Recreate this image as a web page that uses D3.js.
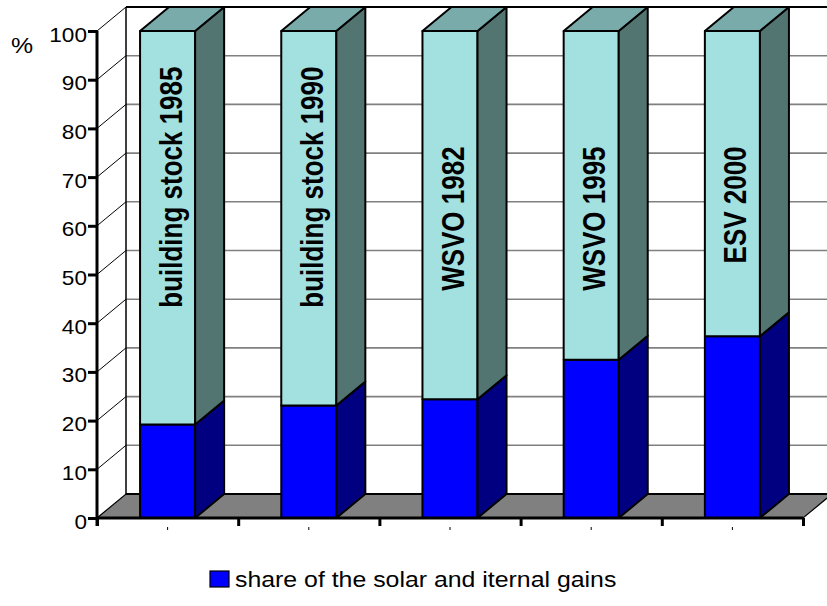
<!DOCTYPE html>
<html>
<head>
<meta charset="utf-8">
<script src="https://cdn.jsdelivr.net/npm/d3@7"></script>
<style>
  html, body { margin: 0; padding: 0; background: #fff; }
  svg { display: block; }
  text { font-family: "Liberation Sans", Arimo, sans-serif; fill: #000; }
</style>
</head>
<body>
<svg id="chart" width="827" height="606"></svg>
<script>
// Standards compared, bottom to top of each column
const categories = ["building stock 1985", "building stock 1990", "WSVO 1982", "WSVO 1995", "ESV 2000"];
// share of the solar and internal gains, % of the heat demand
const gainsShare = [19.2, 23.1, 24.4, 32.5, 37.3];
// remaining part up to 100 %
const totalShare = [100, 100, 100, 100, 100];
const yTickValues = [0, 10, 20, 30, 40, 50, 60, 70, 80, 90, 100];
const legendLabel = "share of the solar and iternal gains";
const unitLabel = "%";

const svg = d3.select("#chart");
const fontFamily = "'Liberation Sans', Arimo, sans-serif";

// Plot frame (front plane) and oblique depth of the 3D box
const plotLeft = 97, plotRight = 803, plotBottom = 518, plotTop = 31;
const depthX = 29, depthY = -24;
const backRight = plotRight + depthX;
const textStretch = 1.13;

const x = d3.scaleBand()
  .domain(categories)
  .range([plotLeft, plotRight])
  .paddingInner(0.61)
  .paddingOuter(0.305);

const y = d3.scaleLinear().domain([0, 100]).range([plotBottom, plotTop]);

const pts = arr => arr.map(p => p.join(",")).join(" ");

// ---- walls ----
const walls = svg.append("g");

// back wall gridlines
walls.selectAll("line.grid")
  .data(yTickValues.filter(v => v > 0 && v < 100))
  .join("line")
  .attr("class", "grid")
  .attr("x1", plotLeft + depthX).attr("x2", backRight)
  .attr("y1", d => y(d) + depthY).attr("y2", d => y(d) + depthY)
  .attr("stroke", "#808080").attr("stroke-width", 1.6);

// left wall diagonals
walls.selectAll("line.diag")
  .data(yTickValues.filter(v => v > 0))
  .join("line")
  .attr("class", "diag")
  .attr("x1", plotLeft).attr("x2", plotLeft + depthX)
  .attr("y1", d => y(d)).attr("y2", d => y(d) + depthY)
  .attr("stroke", "#000").attr("stroke-width", 1);

// back wall top edge and left edge
walls.append("line")
  .attr("x1", plotLeft + depthX).attr("x2", backRight)
  .attr("y1", y(100) + depthY).attr("y2", y(100) + depthY)
  .attr("stroke", "#000").attr("stroke-width", 2);
walls.append("line")
  .attr("x1", plotLeft + depthX).attr("x2", plotLeft + depthX)
  .attr("y1", y(100) + depthY).attr("y2", y(0) + depthY)
  .attr("stroke", "#000").attr("stroke-width", 1.5);

// floor
walls.append("polygon")
  .attr("points", pts([[plotLeft, y(0)], [plotRight, y(0)], [backRight, y(0) + depthY], [plotLeft + depthX, y(0) + depthY]]))
  .attr("fill", "#808080").attr("stroke", "#000").attr("stroke-width", 1.2);
walls.append("line")
  .attr("x1", plotLeft + depthX).attr("x2", backRight)
  .attr("y1", y(0) + depthY).attr("y2", y(0) + depthY)
  .attr("stroke", "#000").attr("stroke-width", 2.2);

// ---- columns ----
const rows = categories.map((c, i) => ({ cat: c, gains: gainsShare[i], total: totalShare[i] }));

const segStyle = {
  lower: { front: "#0000FF", side: "#000080", top: "#0000C0" },
  upper: { front: "#A3E0E0", side: "#527571", top: "#7AABAB" }
};

function drawBlock(g, x0, x1, v0, v1, style, withTop) {
  const yb = y(v0), yt = y(v1);
  g.append("rect")
    .attr("x", x0).attr("y", yt).attr("width", x1 - x0).attr("height", yb - yt)
    .attr("fill", style.front).attr("stroke", "#000").attr("stroke-width", 2)
    .attr("stroke-linejoin", "round");
  g.append("polygon")
    .attr("points", pts([[x1, yb], [x1 + depthX, yb + depthY], [x1 + depthX, yt + depthY], [x1, yt]]))
    .attr("fill", style.side).attr("stroke", "#000").attr("stroke-width", 2)
    .attr("stroke-linejoin", "round");
  if (withTop) {
    g.append("polygon")
      .attr("points", pts([[x0, yt], [x0 + depthX, yt + depthY], [x1 + depthX, yt + depthY], [x1, yt]]))
      .attr("fill", style.top).attr("stroke", "#000").attr("stroke-width", 2)
      .attr("stroke-linejoin", "round");
  }
}

const bars = svg.append("g");
rows.forEach(d => {
  const g = bars.append("g");
  const x0 = x(d.cat), x1 = x0 + x.bandwidth();
  drawBlock(g, x0, x1, 0, d.gains, segStyle.lower, false);
  drawBlock(g, x0, x1, d.gains, d.total, segStyle.upper, true);

  // column caption, written upward inside the light segment
  const cx = x0 + x.bandwidth() / 2;
  const endValue = d.cat.length > 12 ? 92.7 : 76.3;
  g.append("text")
    .attr("transform", `translate(${cx + 14},${y(endValue)}) scale(${textStretch + 0.05},1) rotate(-90)`)
    .attr("text-anchor", "end")
    .style("font-family", fontFamily)
    .style("font-size", "26px")
    .style("font-weight", "bold")
    .text(d.cat);
});

// ---- axes ----
const yAxis = d3.axisLeft(y).tickValues(yTickValues).tickSize(9).tickPadding(0);
const yG = svg.append("g").attr("transform", `translate(${plotLeft},0)`).call(yAxis);
yG.attr("font-family", null).attr("font-size", null);
yG.select(".domain").attr("d", `M0,${y(100)}V${y(0) + 8}`).attr("stroke", "#000").attr("stroke-width", 3);
yG.selectAll(".tick line").attr("stroke", "#000").attr("stroke-width", 3);
yG.selectAll(".tick text")
  .attr("x", null).attr("dy", null)
  .attr("transform", `translate(-10,10) scale(${textStretch},1)`)
  .attr("text-anchor", "end")
  .style("font-size", "20px")
  .style("font-family", fontFamily);

// category boundaries (major ticks) and category centres (minor marks)
const boundary = d3.scaleLinear().domain([0, categories.length]).range([plotLeft, plotRight]);
const xMajor = d3.axisBottom(boundary)
  .tickValues(d3.range(0, categories.length + 1))
  .tickFormat("").tickSize(8);
const xG = svg.append("g").attr("transform", `translate(0,${plotBottom})`).call(xMajor);
xG.select(".domain").attr("d", `M${plotLeft},0H${plotRight}`).attr("stroke", "#000").attr("stroke-width", 3);
xG.selectAll(".tick line").attr("stroke", "#000").attr("stroke-width", 3);

const xMinor = d3.axisBottom(x).tickFormat("").tickSize(3);
const xmG = svg.append("g").attr("transform", `translate(0,${plotBottom + 9})`).call(xMinor);
xmG.select(".domain").remove();
xmG.selectAll(".tick line").attr("stroke", "#000").attr("stroke-width", 1);

// unit label
svg.append("text")
  .attr("transform", `translate(11,53) scale(${textStretch},1)`)
  .style("font-family", fontFamily)
  .style("font-size", "22px")
  .text(unitLabel);

// ---- legend ----
const legend = svg.append("g").attr("transform", "translate(210,571)");
legend.append("rect")
  .attr("width", 19).attr("height", 16)
  .attr("fill", segStyle.lower.front).attr("stroke", "#000").attr("stroke-width", 1.2);
legend.append("text")
  .attr("transform", `translate(25,16) scale(${textStretch},1)`)
  .style("font-family", fontFamily)
  .style("font-size", "22px")
  .text(legendLabel);
</script>
</body>
</html>
